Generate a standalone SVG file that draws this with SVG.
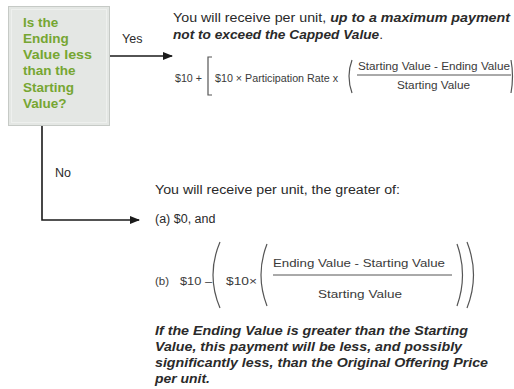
<svg xmlns="http://www.w3.org/2000/svg" width="514" height="389" viewBox="0 0 514 389">
  <defs>
    <marker id="arrow" markerWidth="10" markerHeight="8" refX="9" refY="4" orient="auto" markerUnits="userSpaceOnUse">
      <path d="M0,0 L10,4 L0,8 Z" fill="#1a1a1a"/>
    </marker>
    <style>
      .q { font-family: "Liberation Sans", Arial, sans-serif; font-size: 13.5px; font-weight: bold; fill: #76a632; }
      .t { font-family: "Liberation Sans", Arial, sans-serif; font-size: 12.5px; fill: #2a2a2a; }
      .bi { font-weight: bold; font-style: italic; }
      .f { font-family: "Liberation Sans", Arial, sans-serif; font-size: 10px; fill: #3a3a3a; }
      .fb { font-family: "Liberation Sans", Arial, sans-serif; font-size: 11.5px; fill: #3a3a3a; }
      .con { stroke: #1a1a1a; stroke-width: 1.6; fill: none; }
      .br { stroke: #555; stroke-width: 1.2; fill: none; }
    </style>
  </defs>
  <rect width="514" height="389" fill="#ffffff"/>

  <!-- decision node -->
  <g id="decision">
    <rect x="8.5" y="6.5" width="101" height="119" fill="#e4e7e4" stroke="#c6cac6" stroke-width="1"/>
    <rect x="11.5" y="9.5" width="95" height="113" fill="none" stroke="#eef0ee" stroke-width="1"/>
    <text class="q" x="23" y="27">Is the</text>
    <text class="q" x="23" y="43">Ending</text>
    <text class="q" x="23" y="59" textLength="69" lengthAdjust="spacingAndGlyphs">Value less</text>
    <text class="q" x="23" y="75">than the</text>
    <text class="q" x="23" y="92">Starting</text>
    <text class="q" x="23" y="108">Value?</text>
  </g>

  <!-- connectors -->
  <g id="connectors">
    <line class="con" x1="110" y1="56" x2="172" y2="56" marker-end="url(#arrow)"/>
    <text class="t" x="122" y="43">Yes</text>
    <polyline class="con" points="42,126 42,220 139,220" marker-end="url(#arrow)"/>
    <text class="t" x="55" y="177">No</text>
  </g>

  <!-- outcome when yes -->
  <g id="yes-outcome">
    <text class="t" x="173" y="22" textLength="337" lengthAdjust="spacingAndGlyphs">You will receive per unit, <tspan class="bi">up to a maximum payment</tspan></text>
    <text class="t" x="173" y="39" textLength="210" lengthAdjust="spacingAndGlyphs"><tspan class="bi">not to exceed the Capped Value</tspan>.</text>
    <text class="f" x="175" y="82" textLength="27" lengthAdjust="spacingAndGlyphs">$10 +</text>
    <path class="br" d="M212,57 L208,57 L208,95 L212,95"/>
    <text class="f" x="215" y="82" textLength="123" lengthAdjust="spacingAndGlyphs">$10 × Participation Rate x</text>
    <path class="br" d="M352,60 Q346,76 352,93"/>
    <text class="f" x="358" y="70" textLength="152" lengthAdjust="spacingAndGlyphs">Starting Value - Ending Value</text>
    <line x1="357" y1="75" x2="511" y2="75" stroke="#555" stroke-width="1"/>
    <text class="f" x="397" y="89" textLength="73" lengthAdjust="spacingAndGlyphs">Starting Value</text>
    <path class="br" d="M511,60 Q514,76 511,93"/>
  </g>

  <!-- outcome when no -->
  <g id="no-outcome">
    <text class="t" x="155" y="194" textLength="245" lengthAdjust="spacingAndGlyphs">You will receive per unit, the greater of:</text>
    <text class="t" x="155" y="223">(a) $0, and</text>
    <text class="fb" x="155" y="285">(b)</text>
    <text class="fb" x="180" y="285" textLength="32" lengthAdjust="spacingAndGlyphs">$10 –</text>
    <path class="br" d="M220,242 Q206,275 220,308"/>
    <text class="fb" x="226" y="285" textLength="31" lengthAdjust="spacingAndGlyphs">$10×</text>
    <path class="br" d="M267,244 Q255,275 267,306"/>
    <text class="fb" x="273" y="267" textLength="172" lengthAdjust="spacingAndGlyphs">Ending Value - Starting Value</text>
    <line x1="273" y1="275" x2="452" y2="275" stroke="#555" stroke-width="1"/>
    <text class="fb" x="318" y="298" textLength="84" lengthAdjust="spacingAndGlyphs">Starting Value</text>
    <path class="br" d="M457,244 Q468,275 457,306"/>
    <path class="br" d="M467,242 Q480,275 467,308"/>
    <text class="t bi" x="155" y="335" textLength="313" lengthAdjust="spacingAndGlyphs">If the Ending Value is greater than the Starting</text>
    <text class="t bi" x="155" y="351" textLength="307" lengthAdjust="spacingAndGlyphs">Value, this payment will be less, and possibly</text>
    <text class="t bi" x="155" y="367" textLength="333" lengthAdjust="spacingAndGlyphs">significantly less, than the Original Offering Price</text>
    <text class="t bi" x="155" y="383" textLength="55" lengthAdjust="spacingAndGlyphs">per unit.</text>
  </g>
</svg>
